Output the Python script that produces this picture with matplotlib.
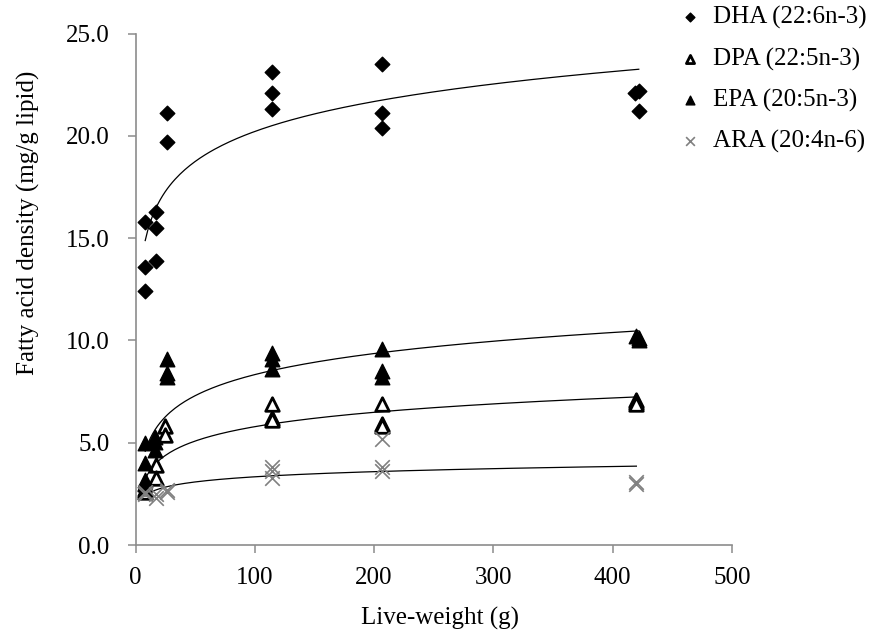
import numpy as np
import matplotlib
matplotlib.use("Agg")
from matplotlib import pyplot as plt

plt.rcParams['font.family'] = ['Liberation Serif', 'DejaVu Serif']

# live-weight (g) and fatty acid density (mg/g lipid)
dha_x = [8, 8, 8, 17, 17, 17, 26, 26, 114, 114, 114, 207, 207, 207, 419, 422, 422]
dha_y = [15.8, 13.6, 12.4, 16.3, 15.5, 13.9, 21.1, 19.7, 23.1, 22.1, 21.3, 23.5, 21.1, 20.4, 22.1, 22.2, 21.2]

dpa_x = [8, 8, 8, 17, 17, 25, 25, 114, 114, 114, 207, 207, 207, 420, 420, 420]
dpa_y = [3.0, 2.7, 2.6, 3.9, 3.3, 5.8, 5.4, 6.9, 6.2, 6.1, 6.9, 5.9, 5.8, 7.1, 7.0, 6.9]

epa_x = [8, 8, 8, 8, 16, 16, 16, 26, 26, 26, 114, 114, 114, 207, 207, 207, 420, 422, 422]
epa_y = [5.0, 4.0, 3.2, 2.8, 5.3, 5.05, 4.65, 9.1, 8.4, 8.2, 9.4, 9.1, 8.6, 9.6, 8.5, 8.2, 10.2, 10.1, 10.0]

ara_x = [8, 8, 17, 17, 26, 26, 114, 114, 114, 207, 207, 207, 420, 420]
ara_y = [2.6, 2.5, 2.3, 2.5, 2.7, 2.6, 3.8, 3.6, 3.3, 5.2, 3.8, 3.6, 3.1, 3.0]

labels = ["DHA (22:6n-3)", "DPA (22:5n-3)", "EPA (20:5n-3)", "ARA (20:4n-6)"]


def log_trend(ax, xs, ys):
    # excel style logarithmic trendline
    xs = np.array(xs, dtype=float)
    a, b = np.polyfit(np.log(xs), ys, 1)
    xx = np.linspace(xs.min(), xs.max(), 200)
    ax.plot(xx, a * np.log(xx) + b, color='black', lw=0.9, zorder=1)


fig = plt.figure(figsize=(8.95, 6.39), dpi=100)
ax = fig.add_axes([0.1516, 0.147, 0.666, 0.8005])

h1 = ax.scatter(dha_x, dha_y, marker='D', s=55, color='black', zorder=3)
h2 = ax.scatter(dpa_x, dpa_y, marker='^', s=95, facecolor='white', edgecolor='black', linewidth=2, zorder=3)
h3 = ax.scatter(epa_x, epa_y, marker='^', s=110, color='black', zorder=3)
h4 = ax.scatter(ara_x, ara_y, marker='x', s=110, color='#808080', linewidth=1.2, zorder=3)

for xs, ys in [(dha_x, dha_y), (dpa_x, dpa_y), (epa_x, epa_y), (ara_x, ara_y)]:
    log_trend(ax, xs, ys)

ax.set_xlim(0, 500)
ax.set_ylim(0, 25)
ax.set_xticks(range(0, 501, 100))
ax.set_yticks(np.arange(0, 25.1, 5))
ax.set_yticklabels([f"{v:.1f}" for v in np.arange(0, 25.1, 5)])

for s in ['top', 'right']:
    ax.spines[s].set_visible(False)
for s in ['left', 'bottom']:
    ax.spines[s].set_color('#8c8c8c')
    ax.spines[s].set_linewidth(1.2)
ax.tick_params(colors='#8c8c8c', labelcolor='black', labelsize=18, length=6, width=1.1)
ax.tick_params(axis='x', pad=10)
ax.tick_params(axis='y', pad=13)

ax.set_xlabel("Live-weight (g)", fontsize=18)
ax.set_ylabel("Fatty acid density (mg/g lipid)", fontsize=18)
ax.xaxis.set_label_coords(0.51, -0.12)
ax.yaxis.set_label_coords(-0.16, 0.63)

fig.legend([h1, h2, h3, h4], labels, loc='upper left', bbox_to_anchor=(0.7575, 0.99),
           frameon=False, fontsize=18, handlelength=1.0, handletextpad=0.4,
           labelspacing=0.72, borderpad=0, borderaxespad=0,
           markerscale=0.6, scatterpoints=1)

fig.savefig("out.png", dpi=100)
